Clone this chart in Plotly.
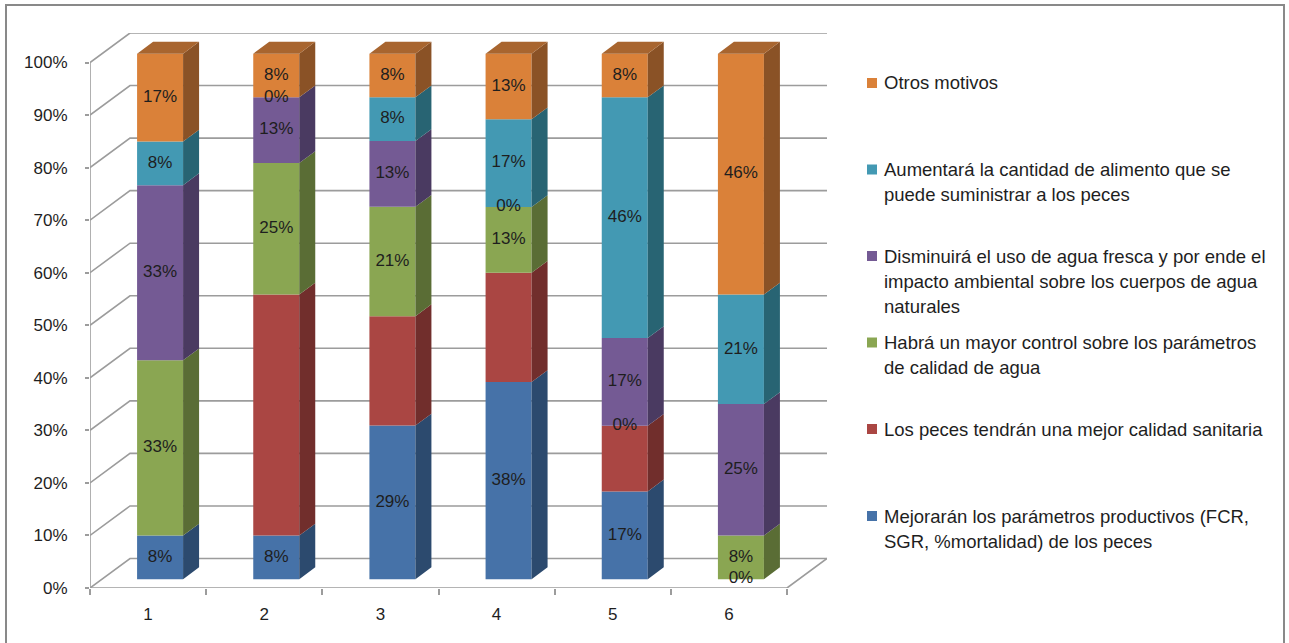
import math
import plotly.graph_objects as go

# ---- data: share of answers (%) per group ----
categories = ["1", "2", "3", "4", "5", "6"]

mejoraran = [8.3, 8.3, 29.2, 37.5, 16.7, 0.0]      # blue
los_peces = [0.0, 45.8, 20.8, 20.8, 12.5, 0.0]     # red
habra = [33.3, 25.0, 20.8, 12.5, 0.0, 8.3]         # green
disminuira = [33.3, 12.5, 12.5, 0.0, 16.7, 25.0]   # purple
aumentara = [8.3, 0.0, 8.3, 16.7, 45.8, 20.8]      # teal
otros = [16.7, 8.3, 8.3, 12.5, 8.3, 45.8]          # orange

y_ticks = [0, 10, 20, 30, 40, 50, 60, 70, 80, 90, 100]
y_tick_labels = [f"{v}%" for v in y_ticks]

legend_lines = {
    "Otros motivos": ["Otros motivos"],
    "Aumentará": ["Aumentará la cantidad de alimento que se",
                  "puede suministrar a los peces"],
    "Disminuirá": ["Disminuirá el uso de agua fresca y por ende el",
                   "impacto ambiental sobre los cuerpos de agua",
                   "naturales"],
    "Habrá": ["Habrá un mayor control sobre los parámetros",
              "de calidad de agua"],
    "Los peces": ["Los peces tendrán una mejor calidad sanitaria"],
    "Mejorarán": ["Mejorarán los parámetros productivos (FCR,",
                  "SGR, %mortalidad) de los peces"],
}

# stacking order bottom -> top: (key, values, front, side, top, show labels)
series = [
    ("Mejorarán", mejoraran, "#4672A8", "#2C4A6E", "#3A5E8B", True),
    ("Los peces", los_peces, "#AA4643", "#712E2C", "#8C3A37", False),
    ("Habrá", habra, "#8AA652", "#5A6D35", "#738A44", True),
    ("Disminuirá", disminuira, "#745A94", "#4A3A61", "#604B7B", True),
    ("Aumentará", aumentara, "#4399B3", "#286473", "#377F94", True),
    ("Otros motivos", otros, "#DA8139", "#8A5226", "#A8652F", True),
]

# ---- layout geometry ----
W, H = 1289, 643
ML, MR, MT, MB = 90, 462, 33, 55
PW, PH = W - ML - MR, H - MT - MB
PX_PER_CAT = 697 / 6.0
PX_PER_PCT = 5.255
X0 = 0.5
X1 = X0 + PW / PX_PER_CAT
Y1 = PH / PX_PER_PCT
N = len(categories)

# 3-D depth of the floor/back wall, in axis units
DX = 40 / PX_PER_CAT
DY = 29.5 / PX_PER_PCT
FX, FY = 0.3 * DX, 0.3 * DY          # front face offset of every column
SX, SY = 0.4 * DX, 0.4 * DY          # column depth
BW = 46 / PX_PER_CAT                 # column width

GRID = "#9C9C9C"
TEXT = "#1E1E1E"
FONT = "Liberation Sans, Arial, sans-serif"
LEGEND_SIZE = 18.5


def px_x(px):
    return (px - ML) / PW


def px_y(py):
    return (H - MB - py) / PH


fig = go.Figure()

# normalise each column to 100 %
totals = [sum(s[1][i] for s in series) for i in range(N)]
bases = [0.0] * N
label_x, label_y, label_t = [], [], []
top_series = {}

for key, vals, front, side, top, show in series:
    shares = [vals[i] / totals[i] * 100 for i in range(N)]
    xs = [i + 1 + FX for i in range(N)]
    fig.add_trace(go.Bar(
        x=xs, y=shares, base=[b + FY for b in bases], width=BW,
        marker=dict(color=front, line=dict(width=0)),
        name=key, showlegend=False, hoverinfo="skip",
    ))
    # right-hand side faces
    px_, py_ = [], []
    for i in range(N):
        if shares[i] <= 0:
            continue
        xr = i + 1 + FX + BW / 2
        y0 = bases[i] + FY
        y1 = y0 + shares[i]
        px_ += [xr, xr + SX, xr + SX, xr, xr, None]
        py_ += [y0, y0 + SY, y1 + SY, y1, y0, None]
        top_series[i] = (key, top)
    fig.add_trace(go.Scatter(
        x=px_, y=py_, mode="lines", fill="toself", fillcolor=side,
        line=dict(width=0), showlegend=False, hoverinfo="skip",
    ))
    if show:
        for i in range(N):
            label_x.append(i + 1 + FX)
            label_y.append(bases[i] + FY + shares[i] / 2)
            label_t.append(f"{math.floor(vals[i] + 0.5)}%")
    bases = [bases[i] + shares[i] for i in range(N)]

# top faces of the columns
tops = {}
for i, (key, color) in top_series.items():
    xl = i + 1 + FX - BW / 2
    xr = xl + BW
    yt = bases[i] + FY
    tx, ty = tops.setdefault(color, ([], []))
    tx += [xl, xr, xr + SX, xl + SX, xl, None]
    ty += [yt, yt, yt + SY, yt + SY, yt, None]
for color, (tx, ty) in tops.items():
    fig.add_trace(go.Scatter(
        x=tx, y=ty, mode="lines", fill="toself", fillcolor=color,
        line=dict(width=0), showlegend=False, hoverinfo="skip",
    ))

fig.add_trace(go.Scatter(
    x=label_x, y=label_y, text=label_t, mode="text",
    textfont=dict(family=FONT, size=17, color=TEXT),
    showlegend=False, hoverinfo="skip", cliponaxis=False,
))

# back wall and side wall gridlines, floor edges, axis lines
shapes = []
for v in y_ticks:
    path = (f"M {X0} {v} L {X0 + DX} {v + DY} L {N + 0.5 + DX} {v + DY}")
    shapes.append(dict(type="path", path=path, xref="x", yref="y",
                       line=dict(color=GRID, width=1.6), layer="below"))
shapes.append(dict(type="path",
                   path=f"M {X0} 0 L {N + 0.5} 0 L {N + 0.5 + DX} {DY}",
                   xref="x", yref="y", line=dict(color=GRID, width=1.6),
                   layer="below"))
shapes.append(dict(type="line", x0=X0, x1=X0, y0=0, y1=100, xref="x",
                   yref="y", line=dict(color=GRID, width=1.6), layer="below"))

# outer chart frame
shapes.append(dict(type="rect", xref="paper", yref="paper",
                   x0=px_x(6), x1=px_x(1284), y0=px_y(660), y1=px_y(5),
                   line=dict(color="#898989", width=2), layer="below"))

# legend (top to bottom follows the stack order top to bottom)
annotations = []
first_line_y = [83, 169.5, 256, 342.5, 429, 516]
for (key, _v, front, _s, _t, _l), y0 in zip(reversed(series), first_line_y):
    shapes.append(dict(type="rect", xref="paper", yref="paper",
                       x0=px_x(867), x1=px_x(877),
                       y0=px_y(y0 + 5), y1=px_y(y0 - 5),
                       fillcolor=front, line=dict(width=0)))
    for k, line in enumerate(legend_lines[key]):
        annotations.append(dict(
            text=line, xref="paper", yref="paper", x=px_x(882),
            y=px_y(y0 + 25 * k), xanchor="left", yanchor="middle",
            showarrow=False,
            font=dict(family=FONT, size=LEGEND_SIZE, color=TEXT)))

fig.update_layout(
    width=W, height=H,
    margin=dict(l=ML, r=MR, t=MT, b=MB, autoexpand=False),
    paper_bgcolor="white", plot_bgcolor="rgba(0,0,0,0)",
    barmode="overlay", showlegend=False,
    shapes=shapes, annotations=annotations,
    font=dict(family=FONT, size=17, color=TEXT),
    xaxis=dict(
        range=[X0, X1], showgrid=False, zeroline=False, showline=False,
        tickvals=list(range(1, N + 1)), ticktext=categories, ticks="",
        ticklabelstandoff=14,
        minor=dict(tickvals=[i + 0.5 for i in range(N + 1)], ticks="outside",
                   ticklen=6, tickcolor=GRID, tickwidth=1.6, showgrid=False),
        fixedrange=True,
    ),
    yaxis=dict(
        range=[0, Y1], showgrid=False, zeroline=False, showline=False,
        tickvals=y_ticks, ticktext=y_tick_labels, ticks="outside",
        ticklen=4, tickcolor=GRID, tickwidth=1.6, ticklabelstandoff=14,
        fixedrange=True,
    ),
)

fig.write_html("out.html", config={"displayModeBar": False})
